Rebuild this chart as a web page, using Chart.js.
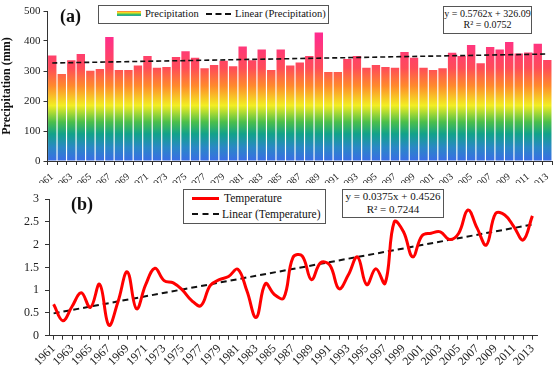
<!DOCTYPE html>
<html>
<head>
<meta charset="utf-8">
<script src="https://cdn.jsdelivr.net/npm/chart.js@4.4.0/dist/chart.umd.min.js"></script>
<style>
  body { margin: 0; width: 557px; height: 365px; overflow: hidden; background: #fff; position: relative;
         font-family: "Liberation Serif", "DejaVu Serif", serif; color: #111; }
  #wrapA { position: absolute; left: 0; top: 0; width: 561px; height: 200px; }
  #wrapB { position: absolute; left: 0; top: 183px; width: 557px; height: 182px; background: #fff; z-index: 1; }
  .box { position: absolute; border: 1px solid #555; background: #fff; z-index: 2; white-space: nowrap; }
  .tag { position: absolute; font-weight: bold; z-index: 2; }
  .row { position: absolute; display: flex; align-items: center; }
  .dash { display: inline-block; width: 27px; border-top: 2px dashed #111; margin-right: 4px; }
</style>
</head>
<body>
<div id="wrapA"><canvas id="chartA" width="561" height="200"></canvas></div>
<div id="wrapB"><canvas id="chartB" width="557" height="182"></canvas></div>

<!-- etiquetas (a) / (b) -->
<div class="tag" style="left:60px;top:6px;font-size:18px;">(a)</div>
<div class="tag" style="left:71px;top:194px;font-size:18px;">(b)</div>

<!-- leyenda (a) -->
<div class="box" style="left:98px;top:5px;width:229px;height:17px;font-size:10.5px;">
  <div class="row" style="left:18px;top:2px;">
    <span style="display:inline-block;width:24px;height:5px;margin-right:4px;background:linear-gradient(to bottom,#ff6f3a,#f2e422,#3fbf5a,#1f9fb0);"></span>Precipitation
  </div>
  <div class="row" style="left:107px;top:2px;"><span class="dash" style="width:25px;"></span>Linear (Precipitation)</div>
</div>
<!-- ecuación (a) -->
<div class="box" style="left:443px;top:6px;width:87px;height:25px;font-size:10px;text-align:center;line-height:11px;padding-top:1px;">
  y = 0.5762x + 326.09<br>R² = 0.0752
</div>

<!-- leyenda (b) -->
<div class="box" style="left:183px;top:189px;width:141px;height:33px;font-size:11.5px;">
  <div class="row" style="left:8px;top:2px;"><span style="display:inline-block;width:27px;height:3px;background:#ff0000;margin-right:5px;"></span>Temperature</div>
  <div class="row" style="left:8px;top:18px;"><span class="dash" style="margin-right:3px;"></span>Linear (Temperature)</div>
</div>
<!-- ecuación (b) -->
<div class="box" style="left:342px;top:189px;width:100px;height:27px;font-size:11px;text-align:center;line-height:13px;">
  y = 0.0375x + 0.4526<br>R² = 0.7244
</div>

<script>
// Años (eje X de ambos gráficos)
const years = [
  '1961','1962','1963','1964','1965','1966','1967','1968','1969','1970',
  '1971','1972','1973','1974','1975','1976','1977','1978','1979','1980',
  '1981','1982','1983','1984','1985','1986','1987','1988','1989','1990',
  '1991','1992','1993','1994','1995','1996','1997','1998','1999','2000',
  '2001','2002','2003','2004','2005','2006','2007','2008','2009','2010',
  '2011','2012','2013'
];

// Precipitación anual (mm)
const precipitation = [
  352, 290, 336, 357, 301, 307, 413, 303, 303, 318,
  350, 311, 313, 347, 366, 344, 309, 320, 334, 316,
  382, 336, 372, 303, 372, 318, 328, 350, 428, 297,
  297, 340, 350, 311, 320, 313, 311, 363, 344, 311,
  303, 309, 361, 350, 387, 326, 380, 372, 397, 358,
  362, 391, 337
];

// Anomalía de temperatura
const temperature = [
  0.69, 0.33, 0.64, 0.94, 0.62, 1.13, 0.23, 0.75, 1.40, 0.59,
  1.12, 1.48, 1.21, 1.16, 1.00, 0.77, 0.66, 1.10, 1.23, 1.30,
  1.46, 0.98, 0.40, 1.14, 0.90, 0.83, 1.72, 1.75, 1.23, 1.60,
  1.55, 1.03, 1.33, 1.73, 1.12, 1.47, 1.15, 2.50, 2.28, 1.73,
  2.19, 2.25, 2.28, 2.11, 2.25, 2.76, 2.36, 1.99, 2.68, 2.65,
  2.39, 2.10, 2.63
];

// Ticks del eje Y
const precipTicks = [0, 50, 100, 150, 200, 250, 300, 350, 400, 450, 500];
const tempTicks = [0, 0.5, 1, 1.5, 2, 2.5, 3];

// Rectas de tendencia (coeficientes impresos en el gráfico, x = 1..53)
const precipTrend = { slope: 0.5762, intercept: 326.09 };
const tempTrend = { slope: 0.0375, intercept: 0.4526 };

// solo los extremos de la recta, el resto se une con spanGaps
function trendEnds(t) {
  return years.map((_, i) => (i === 0 || i === years.length - 1) ? t.slope * (i + 1) + t.intercept : null);
}

const serif = 'Liberation Serif';
const everyOther = function (val, idx) { return idx % 2 === 0 ? this.getLabelForValue(val) : ''; };

// ==========================================
//  (a) Precipitación: barras con degradado
// ==========================================
const gradStops = [
  [0, '#3a6ce6'], [45, '#2a88c6'], [90, '#12a28a'], [130, '#4cbf4a'],
  [185, '#f2ee22'], [250, '#ff8a2c'], [310, '#ff4c58'], [420, '#ff2c8e']
];

function barGradient(context) {
  const chart = context.chart;
  const { ctx, chartArea, scales } = chart;
  if (!chartArea) return '#ff4c58';
  const y0 = scales.y.getPixelForValue(0);
  const y1 = scales.y.getPixelForValue(420);
  const g = ctx.createLinearGradient(0, y0, 0, y1);
  gradStops.forEach(s => g.addColorStop(s[0] / 420, s[1]));
  return g;
}

new Chart(document.getElementById('chartA'), {
  type: 'bar',
  data: {
    labels: years,
    datasets: [{
      label: 'Linear (Precipitation)',
      type: 'line',
      data: trendEnds(precipTrend),
      spanGaps: true,
      borderColor: '#111',
      borderWidth: 1.6,
      borderDash: [5, 3],
      pointRadius: 0,
      order: 0
    }, {
      label: 'Precipitation',
      data: precipitation,
      backgroundColor: barGradient,
      borderWidth: 0,
      barPercentage: 0.88,
      categoryPercentage: 1,
      order: 1
    }]
  },
  options: {
    responsive: false,
    animation: false,
    layout: { padding: { top: 11, left: 0, right: 0, bottom: 0 } },
    plugins: { legend: { display: false }, tooltip: { enabled: false } },
    scales: {
      x: {
        offset: true,
        grid: { drawOnChartArea: false, color: '#333', tickLength: 4 },
        border: { color: '#333' },
        ticks: {
          autoSkip: false, maxRotation: 40, minRotation: 40, padding: 6,
          color: '#222', font: { family: serif, size: 10 },
          callback: everyOther
        },
        afterFit: s => { s.height = 39; }
      },
      y: {
        min: 0, max: 500,
        afterBuildTicks: s => { s.ticks = precipTicks.map(v => ({ value: v })); },
        grid: { drawOnChartArea: false, color: '#333', tickLength: 4 },
        border: { color: '#333' },
        ticks: { color: '#222', padding: 3, font: { family: serif, size: 11 } },
        title: { display: true, text: 'Precipitation (mm)', color: '#111', padding: 0,
                 font: { family: serif, size: 12, weight: 'bold' } },
        afterFit: s => { s.width = 47.5; }
      }
    }
  }
});

// ==========================================
//  (b) Temperatura: línea suavizada
// ==========================================
new Chart(document.getElementById('chartB'), {
  type: 'line',
  data: {
    labels: years,
    datasets: [{
      label: 'Temperature',
      data: temperature,
      borderColor: '#ff0000',
      borderWidth: 3,
      tension: 0.4,
      pointRadius: 0
    }, {
      label: 'Linear (Temperature)',
      data: trendEnds(tempTrend),
      spanGaps: true,
      borderColor: '#111',
      borderWidth: 2,
      borderDash: [6, 4],
      pointRadius: 0
    }]
  },
  options: {
    responsive: false,
    animation: false,
    layout: { padding: { top: 16, left: 0, right: 20, bottom: 0 } },
    plugins: { legend: { display: false }, tooltip: { enabled: false } },
    scales: {
      x: {
        offset: true,
        grid: { drawOnChartArea: false, color: '#333', tickLength: 4 },
        border: { color: '#333' },
        ticks: {
          autoSkip: false, maxRotation: 45, minRotation: 45, padding: 2,
          color: '#222', font: { family: serif, size: 12 },
          callback: everyOther
        },
        afterFit: s => { s.height = 29.3; }
      },
      y: {
        min: 0, max: 3,
        afterBuildTicks: s => { s.ticks = tempTicks.map(v => ({ value: v })); },
        grid: { drawOnChartArea: false, color: '#333', tickLength: 4 },
        border: { color: '#333' },
        ticks: { color: '#222', padding: 6, font: { family: serif, size: 12 },
                 callback: v => String(v) },
        afterFit: s => { s.width = 49; }
      }
    }
  }
});
</script>
</body>
</html>
